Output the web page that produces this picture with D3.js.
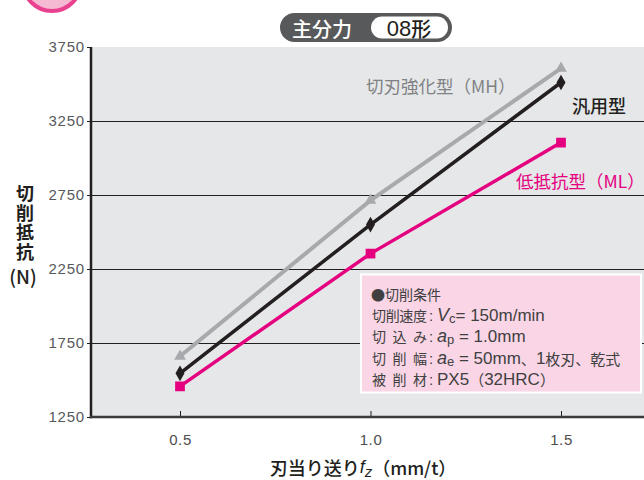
<!DOCTYPE html>
<html>
<head>
<meta charset="utf-8">
<script src="https://cdn.jsdelivr.net/npm/d3@7"></script>
<style>
  html, body { margin: 0; padding: 0; background: #ffffff; }
  svg { display: block; font-family: "Noto Sans CJK JP", "Noto Sans", sans-serif; }
</style>
</head>
<body>
<svg id="chart" width="644" height="480"></svg>
<script>
// Feed per tooth fz (mm/t)
const feed = [0.5, 1.0, 1.5];
// Principal cutting force (N) for each insert type
const forceMH = [1660, 2714, 3606];      // 切刃強化型（MH）
const forceGeneral = [1545, 2550, 3510]; // 汎用型
const forceML = [1457, 2354, 3104];      // 低抵抗型（ML）

const yTicks = [1250, 1750, 2250, 2750, 3250, 3750];
const xTicks = [0.5, 1.0, 1.5];

const seriesNames = ["切刃強化型", "汎用型", "低抵抗型"];

const svg = d3.select("#chart");

const plot = { left: 91, right: 644, top: 47, bottom: 417 };

const x = d3.scaleLinear().domain([0.5, 1.5]).range([180, 561]);
const y = d3.scaleLinear().domain([1250, 3750]).range([plot.bottom, plot.top]);

const latin = "'Liberation Sans', sans-serif";

// decorative pink circle in the corner
svg.append("circle")
  .attr("cx", 52).attr("cy", -18).attr("r", 29)
  .attr("fill", "#f6b9d4").attr("stroke", "#e9418f").attr("stroke-width", 4);

// title badge
const badge = svg.append("g");
badge.append("rect")
  .attr("x", 280).attr("y", 13).attr("width", 172).attr("height", 29).attr("rx", 14.5)
  .attr("fill", "#58595b");
badge.append("rect")
  .attr("x", 371).attr("y", 16.5).attr("width", 77).attr("height", 22).attr("rx", 11)
  .attr("fill", "#ffffff");
badge.append("text")
  .attr("x", 322).attr("y", 28).attr("dominant-baseline", "central").attr("text-anchor", "middle")
  .attr("fill", "#ffffff").attr("font-size", 20).attr("font-weight", 500)
  .text("主分力");
const b2 = badge.append("text")
  .attr("x", 409).attr("y", 28).attr("dominant-baseline", "central").attr("text-anchor", "middle")
  .attr("fill", "#231f20").attr("font-size", 20).attr("font-weight", 500);
b2.append("tspan").text("08").attr("font-size", 22).attr("font-weight", 400).attr("font-family", latin);
b2.append("tspan").text("形");

// plot background
svg.append("rect")
  .attr("x", plot.left).attr("y", plot.top)
  .attr("width", plot.right - plot.left).attr("height", plot.bottom - plot.top)
  .attr("fill", "#e6e7e8");

// horizontal grid lines
svg.append("g")
  .selectAll("line")
  .data(yTicks.filter(d => d > 1250 && d < 3750))
  .join("line")
  .attr("x1", plot.left).attr("x2", plot.right)
  .attr("y1", d => Math.round(y(d)) + 0.5).attr("y2", d => Math.round(y(d)) + 0.5)
  .attr("stroke", "#231f20").attr("stroke-width", 1);

// y axis
const yAxis = svg.append("g")
  .attr("transform", `translate(${plot.left},0)`)
  .call(d3.axisLeft(y).tickValues(yTicks).tickFormat(d3.format("d"))
    .tickSize(4).tickPadding(2).tickSizeOuter(0));
yAxis.select(".domain").remove();
yAxis.selectAll(".tick line").attr("stroke", "#231f20");
yAxis.selectAll(".tick text")
  .attr("font-size", 15).attr("fill", "#58595b").attr("letter-spacing", 0.8)
  .attr("font-family", latin);

// x axis
const xAxis = svg.append("g")
  .attr("transform", `translate(0,${plot.bottom})`)
  .call(d3.axisBottom(x).tickValues(xTicks).tickSize(-6).tickPadding(17).tickSizeOuter(0)
    .tickFormat(d3.format(".1f")));
xAxis.select(".domain").remove();
xAxis.selectAll(".tick line").attr("stroke", "#231f20");
xAxis.selectAll(".tick text")
  .attr("font-size", 15).attr("fill", "#4d4d4f").attr("letter-spacing", 0.6)
  .attr("font-family", latin);

// axis frame lines
svg.append("line")
  .attr("x1", plot.left).attr("x2", plot.left)
  .attr("y1", plot.top).attr("y2", plot.bottom + 1.2)
  .attr("stroke", "#231f20").attr("stroke-width", 2.5);
svg.append("line")
  .attr("x1", plot.left - 1.2).attr("x2", plot.right)
  .attr("y1", plot.bottom).attr("y2", plot.bottom)
  .attr("stroke", "#3a3a3c").attr("stroke-width", 2.5);

// series
const series = [
  { name: seriesNames[0], values: forceMH, color: "#a7a9ac", width: 4, symbol: d3.symbolTriangle, size: 60 },
  { name: seriesNames[1], values: forceGeneral, color: "#231f20", width: 3.5, symbol: d3.symbolDiamond, size: 70 },
  { name: seriesNames[2], values: forceML, color: "#e4007f", width: 3.5, symbol: d3.symbolSquare, size: 95 }
];

const line = d3.line().x(d => x(d[0])).y(d => y(d[1]));

series.forEach(s => {
  const pts = feed.map((f, i) => [f, s.values[i]]);
  svg.append("path")
    .datum(pts)
    .attr("d", line)
    .attr("fill", "none")
    .attr("stroke", s.color)
    .attr("stroke-width", s.width);
  svg.append("g")
    .selectAll("path")
    .data(pts)
    .join("path")
    .attr("transform", d => `translate(${x(d[0])},${y(d[1])})`)
    .attr("d", d3.symbol().type(s.symbol).size(s.size))
    .attr("fill", s.color);
});

// series labels
svg.append("text")
  .attr("x", 366).attr("y", 85).attr("dominant-baseline", "central")
  .attr("font-size", 17.5).attr("fill", "#808285")
  .text("切刃強化型（MH）");
svg.append("text")
  .attr("x", 572).attr("y", 105).attr("dominant-baseline", "central")
  .attr("font-size", 18).attr("font-weight", 500).attr("fill", "#231f20")
  .text("汎用型");
svg.append("text")
  .attr("x", 516).attr("y", 180).attr("dominant-baseline", "central")
  .attr("font-size", 17.5).attr("fill", "#e4007f")
  .text("低抵抗型（ML）");

// cutting conditions box
const box = svg.append("g");
box.append("rect")
  .attr("x", 361).attr("y", 274.5).attr("width", 280).attr("height", 118)
  .attr("fill", "#f9d5e5").attr("stroke", "#ffffff").attr("stroke-width", 2);

const textColor = "#404041";
const rowsY = [293.5, 315, 336, 357.5, 378.5];
box.append("text")
  .attr("x", 371).attr("y", rowsY[0]).attr("dominant-baseline", "central")
  .attr("font-size", 14).attr("fill", textColor)
  .text("●切削条件");

const labels = ["切削速度", "切込み", "切削幅", "被削材"];
labels.forEach((lab, i) => {
  const chars = Array.from(lab);
  const n = chars.length;
  const x0 = 372, span = 55 - 14;
  const t = box.append("text")
    .attr("y", rowsY[i + 1]).attr("dominant-baseline", "central")
    .attr("font-size", 14).attr("fill", textColor);
  chars.forEach((c, j) => {
    t.append("tspan")
      .attr("x", x0 + (n > 1 ? j * span / (n - 1) : 0))
      .text(c);
  });
  t.append("tspan").attr("x", 429).attr("font-family", latin).attr("font-size", 15).text(":");
});

// value column: Latin parts a bit larger than the Japanese parts
function valueLine(row, parts) {
  const t = box.append("text")
    .attr("x", 437).attr("y", rowsY[row]).attr("dominant-baseline", "central")
    .attr("font-size", 15).attr("fill", textColor);
  parts.forEach(p => {
    const ts = t.append("tspan").text(p.text);
    if (p.italic) ts.attr("font-style", "italic").attr("font-family", latin).attr("font-size", 18);
    if (p.sub) ts.attr("font-size", 13).attr("baseline-shift", "-3").attr("font-family", latin);
    if (p.latin) ts.attr("font-family", latin).attr("font-size", 17);
  });
}
valueLine(1, [{ text: "V", italic: true }, { text: "c", sub: true }, { text: "= 150m/min", latin: true }]);
valueLine(2, [{ text: "a", italic: true }, { text: "p", sub: true }, { text: " = 1.0mm", latin: true }]);
valueLine(3, [{ text: "a", italic: true }, { text: "e", sub: true }, { text: " = 50mm", latin: true }, { text: "、" }, { text: "1", latin: true }, { text: "枚刃、乾式" }]);
valueLine(4, [{ text: "PX5", latin: true }, { text: "（" }, { text: "32HRC", latin: true }, { text: "）" }]);

// y axis title, written vertically
svg.append("text")
  .attr("x", 25).attr("y", 184.5)
  .attr("style", "writing-mode: vertical-rl; text-orientation: upright;")
  .attr("font-size", 18).attr("font-weight", 700).attr("fill", "#231f20")
  .attr("letter-spacing", 1.5)
  .text("切削抵抗");
svg.append("text")
  .attr("x", 23).attr("y", 275)
  .attr("text-anchor", "middle").attr("dominant-baseline", "central")
  .attr("font-size", 19).attr("font-weight", 500).attr("fill", "#231f20")
  .text("(N)");

// x axis title
const xt = svg.append("text")
  .attr("x", 363).attr("y", 467)
  .attr("text-anchor", "middle").attr("dominant-baseline", "central")
  .attr("font-size", 18).attr("font-weight", 500).attr("fill", "#231f20");
xt.append("tspan").text("刃当り送り");
xt.append("tspan").text("f").attr("font-style", "italic").attr("font-family", latin);
xt.append("tspan").text("z").attr("font-style", "italic").attr("font-family", latin)
  .attr("font-size", 15).attr("baseline-shift", "-4");
xt.append("tspan").text("（mm/t）");
</script>
</body>
</html>
